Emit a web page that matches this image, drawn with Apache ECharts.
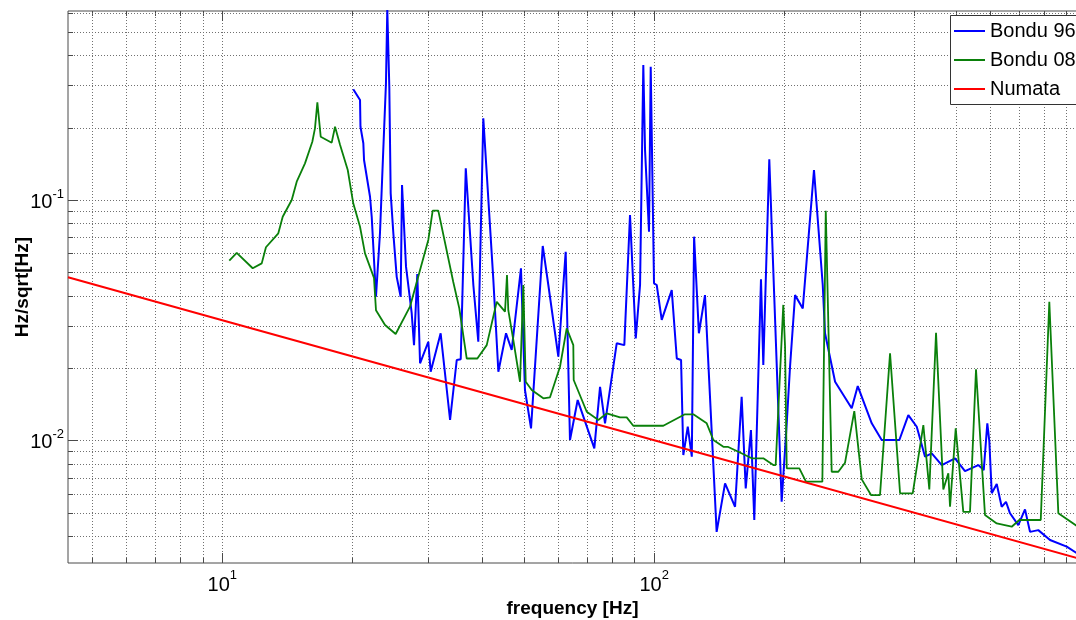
<!DOCTYPE html>
<html>
<head>
<meta charset="utf-8">
<title>Frequency noise spectra</title>
<script src="https://cdn.jsdelivr.net/npm/echarts@6/dist/echarts.min.js"></script>
<style>
  html, body { margin: 0; padding: 0; background: #fff; }
  #chart { width: 1076px; height: 620px; }
</style>
</head>
<body>
<div id="chart"></div>
<script>
// Axis limits (log-log plot)
const X_MIN = 4.393, X_MAX = 952.6;
const Y_MIN = 0.003087, Y_MAX = 0.6117;

// Grid / tick positions on both log axes
const xGridValues = [5, 6, 7, 8, 9, 10, 20, 30, 40, 50, 60, 70, 80, 90, 100, 200, 300, 400, 500, 600, 700, 800, 900];
const yGridValues = [0.004, 0.005, 0.006, 0.007, 0.008, 0.009, 0.01, 0.02, 0.03, 0.04, 0.05, 0.06, 0.07, 0.08, 0.09, 0.1, 0.2, 0.3, 0.4, 0.5, 0.6];

// Bondu 96
const bondu96Freq = [
  20.10, 20.84, 20.89, 21.21, 21.29, 21.98, 22.18, 22.69, 23.18, 23.59,
  23.93, 24.10, 24.36, 24.54, 24.89, 25.34, 25.88, 26.07, 26.27, 26.63,
  27.45, 27.79, 28.28, 28.70, 29.99, 30.37, 32.03, 33.68, 34.90, 35.65,
  36.62, 38.13, 39.15, 40.21, 42.42, 43.57, 45.39, 46.78, 49.15, 50.21,
  51.86, 55.20, 56.87, 59.98, 62.38, 63.83, 66.50, 72.67, 74.92, 76.94,
  81.88, 85.27, 87.90, 90.63, 92.73, 94.36, 95.23, 97.27, 98.16, 99.90,
  101.35, 104.09, 109.80, 112.8, 115.4, 116.8, 119.6, 122.2, 123.7, 126.9,
  131.1, 139.5, 145.9, 153.9, 159.4, 162.9, 167.5, 170.5, 176.7, 178.9,
  184.7, 197.3, 202.7, 206.3, 211.9, 220.8, 234.4, 245.6, 248.6, 262.3,
  286.6, 296.0, 318.9, 336.3, 369.5, 387.6, 405.4, 423.7, 439.1, 463.3,
  497.2, 524.3, 562.9, 579.4, 590.6, 597.0, 604.7, 621.0, 637.6, 652.4,
  666.5, 696.6, 722.0, 741.5, 775.0, 825.0, 901.8, 952.6
];
const bondu96Amp = [
  0.2888, 0.2607, 0.2018, 0.1722, 0.1467, 0.1032, 0.0852, 0.0396, 0.0729, 0.1615,
  0.3059, 0.62, 0.2961, 0.1066, 0.0727, 0.0479, 0.0396, 0.1155, 0.1155, 0.0528,
  0.0338, 0.0249, 0.0492, 0.02091, 0.02572, 0.01930, 0.02788, 0.01215, 0.02159, 0.02173,
  0.1355, 0.0443, 0.02572, 0.2188, 0.0465, 0.01930, 0.02788, 0.02376, 0.0520, 0.01620,
  0.01122, 0.0644, 0.0443, 0.02228, 0.0609, 0.01003, 0.01471, 0.00926, 0.01670, 0.01177,
  0.02533, 0.0249, 0.0866, 0.02657, 0.0443, 0.3646, 0.1615, 0.0738, 0.3587, 0.0450,
  0.0443, 0.0317, 0.0422, 0.0219, 0.02159, 0.00869, 0.01139, 0.00855, 0.0704, 0.02788,
  0.0402, 0.00416, 0.00662, 0.00529, 0.01519, 0.00631, 0.01104, 0.00466, 0.0468, 0.02058,
  0.1477, 0.00555, 0.01177, 0.02024, 0.0402, 0.0354, 0.1333, 0.0443, 0.02788, 0.01753,
  0.01359, 0.01682, 0.01177, 0.01003, 0.01003, 0.01274, 0.01139, 0.00855, 0.00883, 0.00789,
  0.00842, 0.00745, 0.00789, 0.00752, 0.01177, 0.00987, 0.00602, 0.00658, 0.00529, 0.00555,
  0.00497, 0.00444, 0.00516, 0.00416, 0.00423, 0.00385, 0.00361, 0.00339
];

// Bondu 08
const bondu08Freq = [
  10.38, 10.80, 11.76, 12.34, 12.62, 13.48, 13.80, 14.48, 14.87, 15.54,
  16.16, 16.39, 16.60, 16.90, 17.92, 18.24, 18.74, 19.52, 20.10, 20.84,
  21.40, 22.45, 22.69, 23.81, 25.20, 27.20, 28.70, 29.99, 30.70, 31.63,
  34.26, 35.38, 36.81, 38.95, 40.95, 43.19, 45.14, 45.62, 45.94, 47.18,
  48.90, 49.77, 50.41, 52.05, 55.37, 57.38, 60.52, 62.72, 64.97, 65.10,
  69.79, 74.24, 77.63, 83.34, 86.37, 89.45, 104.98, 117.8, 123.2, 132.3,
  137.1, 144.6, 148.0, 156.6, 168.2, 178.9, 188.7, 191.1, 199.0, 200.9,
  202.7, 211.9, 216.8, 224.6, 245.1, 249.6, 257.6, 266.9, 276.6, 290.6,
  302.4, 317.7, 333.3, 351.6, 370.9, 396.8, 419.9, 433.5, 449.3, 467.1,
  479.7, 484.1, 499.0, 519.6, 538.5, 556.0, 583.3, 621.0, 672.6, 700.4,
  785.2, 821.9, 862.4, 952.6
];
const bondu08Amp = [
  0.0559, 0.0603, 0.0520, 0.0545, 0.0636, 0.0727, 0.0852, 0.1000, 0.1192, 0.1421,
  0.1748, 0.1988, 0.2550, 0.1834, 0.1732, 0.2018, 0.1694, 0.1333, 0.0969, 0.0774,
  0.0600, 0.0474, 0.0348, 0.0302, 0.0277, 0.0360, 0.0511, 0.0682, 0.0903, 0.0903,
  0.0456, 0.0354, 0.0219, 0.0219, 0.0249, 0.0377, 0.0343, 0.0487, 0.0348, 0.0262,
  0.01753, 0.0443, 0.01753, 0.01620, 0.01496, 0.01510, 0.02024, 0.02925, 0.0249, 0.01782,
  0.01315, 0.01215, 0.01295, 0.01246, 0.01246, 0.01150, 0.01150, 0.01283, 0.01283, 0.01177,
  0.01003, 0.00940, 0.00940, 0.00896, 0.00842, 0.00842, 0.00789, 0.00789, 0.0366, 0.0245,
  0.00765, 0.00765, 0.00765, 0.00673, 0.00673, 0.0903, 0.00740, 0.00740, 0.00807, 0.01324,
  0.00688, 0.00592, 0.00592, 0.0230, 0.00602, 0.00602, 0.01158, 0.00625, 0.0280, 0.00625,
  0.00729, 0.00529, 0.01122, 0.00504, 0.00504, 0.01974, 0.00489, 0.00451, 0.00437, 0.00466,
  0.00466, 0.0377, 0.00497, 0.00440
];

// Numata (straight line on log-log axes)
const numataFreq = [4.393, 10, 100, 952.6];
const numataAmp = [0.0477, 0.0316, 0.0100, 0.00324];

const FONT = '"Liberation Sans", Arial, Helvetica, sans-serif';

function zip(xs, ys) { return xs.map((x, i) => [x, ys[i]]); }
function powerOf10(v) {
  const e = Math.log10(v);
  return Math.abs(e - Math.round(e)) < 1e-6 ? Math.round(e) : null;
}

// Dotted grid and inward tick marks drawn from the axes' own scales
function renderFrame(params, api) {
  const cs = params.coordSys;
  const left = cs.x, top = cs.y, right = cs.x + cs.width, bottom = cs.y + cs.height;
  const children = [];
  const dotted = { stroke: '#707070', lineWidth: 1, lineDash: [1, 2], fill: null };
  const tick = { stroke: '#4a4a4a', lineWidth: 1, fill: null };
  xGridValues.forEach(v => {
    const px = Math.round(api.coord([v, Y_MIN])[0]) + 0.5;
    const len = powerOf10(v) !== null ? 10 : 5;
    children.push({ type: 'line', shape: { x1: px, y1: top, x2: px, y2: bottom }, style: dotted });
    children.push({ type: 'line', shape: { x1: px, y1: bottom, x2: px, y2: bottom - len }, style: tick });
    children.push({ type: 'line', shape: { x1: px, y1: top, x2: px, y2: top + len }, style: tick });
  });
  yGridValues.forEach(v => {
    const py = Math.round(api.coord([X_MIN, v])[1]) + 0.5;
    const len = powerOf10(v) !== null ? 10 : 5;
    children.push({ type: 'line', shape: { x1: left, y1: py, x2: right, y2: py }, style: dotted });
    children.push({ type: 'line', shape: { x1: left, y1: py, x2: left + len, y2: py }, style: tick });
  });
  return { type: 'group', children };
}

const chart = echarts.init(document.getElementById('chart'), null, { renderer: 'canvas' });

chart.setOption({
  animation: false,
  backgroundColor: '#ffffff',
  grid: {
    left: 68, right: -1, top: 11, bottom: 57,
    containLabel: false, outerBoundsMode: 'none',
    show: true, borderColor: '#4a4a4a', borderWidth: 1, backgroundColor: 'transparent'
  },
  // legend frame runs past the right edge of the page
  graphic: [{
    type: 'rect', left: 950, top: 15, z: 90,
    shape: { width: 200, height: 89 },
    style: { fill: '#ffffff', stroke: '#333333', lineWidth: 1 }
  }],
  legend: {
    data: ['Bondu 96', 'Bondu 08', 'Numata'],
    orient: 'vertical',
    left: 950, top: 15, z: 100,
    padding: [6, 10, 5, 4],
    itemGap: 9,
    itemWidth: 31, itemHeight: 2,
    icon: 'rect',
    borderWidth: 0,
    textStyle: { fontFamily: FONT, fontSize: 20, lineHeight: 20, color: '#000' }
  },
  xAxis: {
    type: 'log', logBase: 10, min: X_MIN, max: X_MAX,
    name: 'frequency [Hz]', nameLocation: 'middle', nameGap: 36, nameMoveOverlap: false,
    nameTextStyle: { fontFamily: FONT, fontSize: 19, fontWeight: 'bold', color: '#000' },
    axisLine: { show: false }, axisTick: { show: false }, splitLine: { show: false },
    axisLabel: {
      margin: 6, hideOverlap: false,
      formatter: v => { const e = powerOf10(v); return e === null ? '' : '{b|10}{s|' + e + '}'; },
      rich: {
        b: { fontFamily: FONT, fontSize: 20, color: '#000', lineHeight: 26, verticalAlign: 'bottom' },
        s: { fontFamily: FONT, fontSize: 13, color: '#000', verticalAlign: 'top' }
      }
    }
  },
  yAxis: {
    type: 'log', logBase: 10, min: Y_MIN, max: Y_MAX,
    name: 'Hz/sqrt[Hz]', nameLocation: 'middle', nameGap: 36, nameRotate: 90, nameMoveOverlap: false,
    nameTextStyle: { fontFamily: FONT, fontSize: 19, fontWeight: 'bold', color: '#000' },
    axisLine: { show: false }, axisTick: { show: false }, splitLine: { show: false },
    axisLabel: {
      margin: 4, hideOverlap: false,
      formatter: v => { const e = powerOf10(v); return e === null ? '' : '{b|10}{s|' + e + '}'; },
      rich: {
        b: { fontFamily: FONT, fontSize: 20, color: '#000', lineHeight: 24, verticalAlign: 'bottom' },
        s: { fontFamily: FONT, fontSize: 13, color: '#000', verticalAlign: 'top' }
      }
    }
  },
  series: [
    {
      type: 'custom', coordinateSystem: 'cartesian2d', silent: true, z: 1, clip: false,
      data: [[10, 0.01]], renderItem: renderFrame
    },
    {
      name: 'Bondu 96', type: 'line', z: 3, showSymbol: false, symbol: 'none',
      color: '#0000ff', lineStyle: { color: '#0000ff', width: 2 },
      data: zip(bondu96Freq, bondu96Amp)
    },
    {
      name: 'Bondu 08', type: 'line', z: 4, showSymbol: false, symbol: 'none',
      color: '#0a800a', lineStyle: { color: '#0a800a', width: 1.8 },
      data: zip(bondu08Freq, bondu08Amp)
    },
    {
      name: 'Numata', type: 'line', z: 5, showSymbol: false, symbol: 'none',
      color: '#ff0000', lineStyle: { color: '#ff0000', width: 2 },
      data: zip(numataFreq, numataAmp)
    }
  ]
});
</script>
</body>
</html>
